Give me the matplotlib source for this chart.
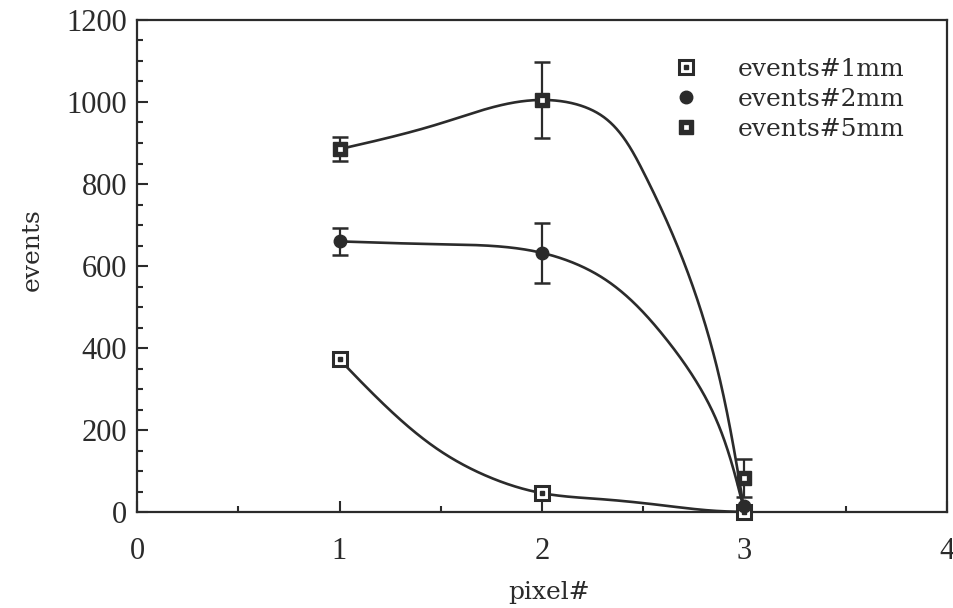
import numpy as np
import matplotlib
matplotlib.use("Agg")
import matplotlib.pyplot as plt
from matplotlib.ticker import MultipleLocator
from matplotlib.lines import Line2D
from matplotlib.legend_handler import HandlerTuple

# ---------------- data ----------------
pixels = [1, 2, 3]

events_1mm = [372, 46, 0]
events_2mm = [660, 632, 15]
err_2mm = [32, 73, 0]
events_5mm = [885, 1005, 83]
err_5mm = [30, 93, 47]

# smooth curves
curve_1mm_x = [1.0, 1.25, 1.5, 1.75, 2.0, 2.3, 2.6, 2.85, 3.0]
curve_1mm_y = [372, 248, 148, 83, 46, 31, 16, 3, 0]
curve_2mm_x = [1.0, 1.5, 2.0, 2.3, 2.6, 2.85, 3.0]
curve_2mm_y = [660, 653, 632, 571, 430, 237, 0]
curve_5mm_x = [1.0, 1.5, 2.0, 2.3, 2.5, 2.7, 2.85, 3.0]
curve_5mm_y = [885, 948, 1005, 965, 830, 610, 380, 0]

labels = ["events#1mm", "events#2mm", "events#5mm"]
x_label = "pixel#"
y_label = "events"

INK = "#2b2b2b"


def natural_spline(tk, vk, ts):
    tk = np.asarray(tk, float)
    vk = np.asarray(vk, float)
    n = len(tk)
    h = np.diff(tk)
    A = np.zeros((n, n))
    b = np.zeros(n)
    A[0, 0] = 1.0
    A[-1, -1] = 1.0
    for i in range(1, n - 1):
        A[i, i - 1] = h[i - 1]
        A[i, i] = 2 * (h[i - 1] + h[i])
        A[i, i + 1] = h[i]
        b[i] = 6 * ((vk[i + 1] - vk[i]) / h[i] - (vk[i] - vk[i - 1]) / h[i - 1])
    M = np.linalg.solve(A, b)
    idx = np.clip(np.searchsorted(tk, ts) - 1, 0, n - 2)
    hh = h[idx]
    a = (tk[idx + 1] - ts) / hh
    c = (ts - tk[idx]) / hh
    return (a * vk[idx] + c * vk[idx + 1]
            + ((a**3 - a) * M[idx] + (c**3 - c) * M[idx + 1]) * hh**2 / 6)


def smooth_through(ax, xk, yk, n=800):
    """Parametric (chord-length) cubic spline through the points, in display space."""
    pts = ax.transData.transform(np.column_stack([xk, yk]))
    seg = np.hypot(*np.diff(pts, axis=0).T)
    t = np.concatenate([[0], np.cumsum(seg)])
    ts = np.linspace(0, t[-1], n)
    px = natural_spline(t, pts[:, 0], ts)
    py = natural_spline(t, pts[:, 1], ts)
    return ax.transData.inverted().transform(np.column_stack([px, py])).T


fig = plt.figure(figsize=(9.54, 6.08), dpi=100)
ax = fig.add_axes([137 / 954, 1 - 512 / 608, 810 / 954, 492 / 608])
ax.set_xlim(0, 4)
ax.set_ylim(0, 1200)

# curves
for cx, cy in [(curve_1mm_x, curve_1mm_y), (curve_2mm_x, curve_2mm_y),
               (curve_5mm_x, curve_5mm_y)]:
    sx, sy = smooth_through(ax, cx, cy)
    ax.plot(sx, sy, color=INK, lw=1.9, zorder=2, solid_capstyle="round")

# error bars
for vals, errs in [(events_2mm, err_2mm), (events_5mm, err_5mm)]:
    ax.errorbar(pixels, vals, yerr=errs, fmt="none", ecolor=INK,
                elinewidth=1.6, capsize=5.5, capthick=1.8, zorder=3,
                clip_on=False)

# markers
ax.plot(pixels, events_1mm, ls="none", marker="s", ms=9.5, mfc="white",
        mec=INK, mew=2.2, zorder=4, clip_on=False)
ax.plot(pixels, events_1mm, ls="none", marker="s", ms=2.6, mfc=INK,
        mec=INK, zorder=4.1, clip_on=False)
ax.plot(pixels, events_2mm, ls="none", marker="o", ms=9, mfc=INK,
        mec=INK, zorder=5, clip_on=False)
ax.plot(pixels, events_5mm, ls="none", marker="s", ms=9.5, mfc=INK,
        mec=INK, zorder=4, clip_on=False)
ax.plot(pixels, events_5mm, ls="none", marker="s", ms=2.2, mfc="white",
        mec="white", mew=0.5, zorder=4.1, clip_on=False)

# axes styling
ax.xaxis.set_major_locator(MultipleLocator(1))
ax.xaxis.set_minor_locator(MultipleLocator(0.5))
ax.yaxis.set_major_locator(MultipleLocator(200))
ax.yaxis.set_minor_locator(MultipleLocator(50))
for s in ax.spines.values():
    s.set_linewidth(1.6)
    s.set_color(INK)
ax.tick_params(which="both", direction="in", color=INK, width=1.5,
               labelcolor=INK, top=False, right=False)
ax.tick_params(which="major", length=8)
ax.tick_params(which="minor", length=4.5)
ax.tick_params(axis="y", which="major", pad=7)
ax.tick_params(axis="x", which="major", pad=18)
for lab in ax.get_xticklabels() + ax.get_yticklabels():
    lab.set_fontfamily("Liberation Serif")
    lab.set_fontsize(22)

ax.set_xlabel(x_label, fontfamily="DejaVu Serif", fontsize=18, color=INK)
ax.set_ylabel(y_label, fontfamily="DejaVu Serif", fontsize=18, color=INK)
ax.xaxis.set_label_coords((549 - 137) / 810, (512 - 581) / 492)
ax.yaxis.set_label_coords((44 - 137) / 810, (512 - 250) / 492)

# legend
h1 = (Line2D([], [], ls="none", marker="s", ms=9.5, mfc="white", mec=INK, mew=2.2),
      Line2D([], [], ls="none", marker="s", ms=2.6, mfc=INK, mec=INK))
h2 = Line2D([], [], ls="none", marker="o", ms=9, mfc=INK, mec=INK)
h3 = (Line2D([], [], ls="none", marker="s", ms=9.5, mfc=INK, mec=INK),
      Line2D([], [], ls="none", marker="s", ms=2.2, mfc="white", mec="white", mew=0.5))
leg = ax.legend([h1, h2, h3], labels,
                handler_map={tuple: HandlerTuple(ndivide=1, pad=0)},
                loc="upper left", bbox_to_anchor=((673 - 137) / 810, (512 - 58) / 492),
                frameon=False, borderpad=0, borderaxespad=0, handlelength=1.0,
                handletextpad=1.6, labelspacing=0.27,
                prop={"family": "DejaVu Serif", "size": 18})
for t in leg.get_texts():
    t.set_color(INK)

fig.savefig("out.png", dpi=100, facecolor="white")
